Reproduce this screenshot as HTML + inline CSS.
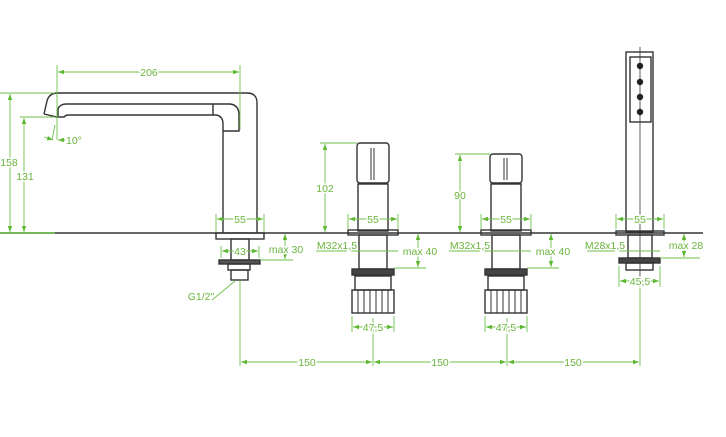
<!DOCTYPE html>
<html><head><style>html,body{margin:0;padding:0;background:#fff}svg{display:block}</style></head><body>
<svg width="726" height="437" viewBox="0 0 726 437" xmlns="http://www.w3.org/2000/svg" font-family="Liberation Sans, sans-serif" font-size="10.5">
<defs>
<marker id="a" viewBox="0 0 8 6" refX="8" refY="3" markerWidth="7" markerHeight="5" orient="auto-start-reverse"><path d="M0,0L8,3L0,6z" fill="#5fb832"/></marker>
</defs>
<g stroke="#333" stroke-width="1.4" fill="none">
<line x1="0" y1="233" x2="703" y2="233"/>
<!-- spout -->
<path d="M44,114 L47,101 Q49,93 58,93 L247,93 Q257,93 257,103 L257,233"/>
<path d="M58,116 L58,109 Q60,104 66,104 L230,104 Q239,105 239,115 L239,131 L223,131"/>
<line x1="213" y1="104" x2="213" y2="115"/>
<path d="M44,114 L57,117 L64,117 Q66,115 68,115 L216,115 Q223,116 223,124 L223,233"/>
<rect x="216" y="233" width="48" height="6"/>
<rect x="231" y="239" width="18" height="21"/>
<rect x="219" y="260" width="41" height="4" fill="#555"/>
<rect x="228" y="264" width="22" height="6"/>
<rect x="231" y="270" width="17" height="10"/>
<!-- mixers -->
<g>
<rect x="357" y="143" width="32" height="40" rx="3"/>
<line x1="371" y1="148" x2="371" y2="180" stroke-width="1"/><line x1="374" y1="148" x2="374" y2="180" stroke-width="1"/>
<rect x="358" y="184" width="30" height="47"/>
<rect x="348" y="230" width="50" height="5"/>
<rect x="359" y="235" width="28" height="34"/>
<rect x="352" y="269" width="42" height="6" fill="#444"/>
<rect x="355" y="276" width="36" height="14"/>
<rect x="352" y="290" width="42" height="23"/>
<path d="M358,290V313M364,290V313M370,290V313M376,290V313M382,290V313M388,290V313" stroke-width="1"/>
</g>
<g transform="translate(133,0)">
<rect x="357" y="154" width="32" height="29" rx="3"/>
<line x1="371" y1="158" x2="371" y2="180" stroke-width="1"/><line x1="374" y1="158" x2="374" y2="180" stroke-width="1"/>
<rect x="358" y="184" width="30" height="47"/>
<rect x="348" y="230" width="50" height="5"/>
<rect x="359" y="235" width="28" height="34"/>
<rect x="352" y="269" width="42" height="6" fill="#444"/>
<rect x="355" y="276" width="36" height="14"/>
<rect x="352" y="290" width="42" height="23"/>
<path d="M358,290V313M364,290V313M370,290V313M376,290V313M382,290V313M388,290V313" stroke-width="1"/>
</g>
<!-- handshower -->
<rect x="626" y="52" width="27" height="180"/>
<rect x="630" y="57" width="21" height="65"/>
<line x1="640" y1="47" x2="640" y2="283" stroke-width="0.8"/>
<rect x="616" y="231" width="48" height="4"/>
<rect x="628" y="235" width="24" height="23"/>
<rect x="619" y="258" width="41" height="5" fill="#444"/>
<rect x="626" y="263" width="27" height="7"/>
</g>
<g fill="#222"><circle cx="640" cy="66" r="3.2"/><circle cx="640" cy="82" r="3.2"/><circle cx="640" cy="97" r="3.2"/><circle cx="640" cy="112" r="3.2"/></g>
<!-- dimensions -->
<g stroke="#6cc24a" stroke-width="0.9" fill="none">
<line x1="0" y1="233" x2="55" y2="233" stroke-width="1.4"/>
<line x1="57" y1="65" x2="57" y2="140"/><line x1="240" y1="65" x2="240" y2="130"/>
<line x1="58" y1="72" x2="239" y2="72" marker-start="url(#a)" marker-end="url(#a)"/>
<line x1="0" y1="93" x2="55" y2="93"/><line x1="20" y1="117" x2="55" y2="117"/>
<line x1="10" y1="94" x2="10" y2="232" marker-start="url(#a)" marker-end="url(#a)"/>
<line x1="24" y1="118" x2="24" y2="232" marker-start="url(#a)" marker-end="url(#a)"/>
<line x1="52" y1="140" x2="55" y2="125"/><line x1="44" y1="137" x2="53" y2="140" marker-end="url(#a)"/><line x1="66" y1="140" x2="58" y2="140" marker-end="url(#a)"/>
<line x1="216" y1="214" x2="216" y2="232"/><line x1="264" y1="214" x2="264" y2="232"/>
<line x1="217" y1="219" x2="263" y2="219" marker-start="url(#a)" marker-end="url(#a)"/>
<line x1="221" y1="246" x2="221" y2="258"/><line x1="259" y1="246" x2="259" y2="258"/>
<line x1="222" y1="251" x2="258" y2="251" marker-start="url(#a)" marker-end="url(#a)"/>
<line x1="260" y1="260" x2="293" y2="260"/>
<line x1="285" y1="234" x2="285" y2="259" marker-start="url(#a)" marker-end="url(#a)"/>
<line x1="212" y1="300" x2="235" y2="281"/>
<line x1="240" y1="281" x2="240" y2="366"/>
<line x1="373" y1="318" x2="373" y2="366"/><line x1="507" y1="318" x2="507" y2="366"/><line x1="640" y1="283" x2="640" y2="366"/>
<line x1="241" y1="362" x2="372" y2="362" marker-start="url(#a)" marker-end="url(#a)"/>
<line x1="374" y1="362" x2="506" y2="362" marker-start="url(#a)" marker-end="url(#a)"/>
<line x1="508" y1="362" x2="639" y2="362" marker-start="url(#a)" marker-end="url(#a)"/>
<line x1="320" y1="143" x2="357" y2="143"/>
<line x1="325" y1="144" x2="325" y2="232" marker-start="url(#a)" marker-end="url(#a)"/>
<line x1="455" y1="154" x2="490" y2="154"/>
<line x1="460" y1="155" x2="460" y2="232" marker-start="url(#a)" marker-end="url(#a)"/>
<g>
<line x1="348" y1="214" x2="348" y2="229"/><line x1="398" y1="214" x2="398" y2="229"/>
<line x1="349" y1="219" x2="397" y2="219" marker-start="url(#a)" marker-end="url(#a)"/>
<line x1="316" y1="251" x2="398" y2="251"/>
<line x1="394" y1="268" x2="426" y2="268"/>
<line x1="418" y1="234" x2="418" y2="267" marker-start="url(#a)" marker-end="url(#a)"/>
<line x1="352" y1="316" x2="352" y2="332"/><line x1="394" y1="316" x2="394" y2="332"/>
<line x1="353" y1="327" x2="393" y2="327" marker-start="url(#a)" marker-end="url(#a)"/>
</g>
<g transform="translate(133,0)">
<line x1="348" y1="214" x2="348" y2="229"/><line x1="398" y1="214" x2="398" y2="229"/>
<line x1="349" y1="219" x2="397" y2="219" marker-start="url(#a)" marker-end="url(#a)"/>
<line x1="316" y1="251" x2="398" y2="251"/>
<line x1="394" y1="268" x2="426" y2="268"/>
<line x1="418" y1="234" x2="418" y2="267" marker-start="url(#a)" marker-end="url(#a)"/>
<line x1="352" y1="316" x2="352" y2="332"/><line x1="394" y1="316" x2="394" y2="332"/>
<line x1="353" y1="327" x2="393" y2="327" marker-start="url(#a)" marker-end="url(#a)"/>
</g>
<line x1="616" y1="214" x2="616" y2="229"/><line x1="664" y1="214" x2="664" y2="229"/>
<line x1="617" y1="219" x2="663" y2="219" marker-start="url(#a)" marker-end="url(#a)"/>
<line x1="587" y1="251" x2="660" y2="251"/>
<line x1="660" y1="258" x2="700" y2="258"/>
<line x1="684" y1="234" x2="684" y2="257" marker-start="url(#a)" marker-end="url(#a)"/>
<line x1="619" y1="266" x2="619" y2="287"/><line x1="660" y1="266" x2="660" y2="287"/>
<line x1="620" y1="281" x2="659" y2="281" marker-start="url(#a)" marker-end="url(#a)"/>
</g>
<g fill="#6ab43c" stroke="#fff" stroke-width="3" paint-order="stroke" text-anchor="middle">
<text x="149" y="76">206</text>
<text x="9" y="166">158</text>
<text x="25" y="180">131</text>
<text x="74" y="144">10°</text>
<text x="240" y="223">55</text>
<text x="240" y="255">43</text>
<text x="286" y="253">max 30</text>
<text x="201" y="300">G1/2"</text>
<text x="325" y="192">102</text>
<text x="460" y="199">90</text>
<text x="373" y="223">55</text><text x="506" y="223">55</text><text x="640" y="223">55</text>
<text x="337" y="249">M32x1,5</text><text x="470" y="249">M32x1,5</text><text x="605" y="249">M28x1,5</text>
<text x="420" y="255">max 40</text><text x="553" y="255">max 40</text><text x="686" y="249">max 28</text>
<text x="373" y="331">47,5</text><text x="506" y="331">47,5</text><text x="640" y="285">45,5</text>
<text x="307" y="366">150</text><text x="440" y="366">150</text><text x="573" y="366">150</text>
</g>
</svg>
</body></html>
